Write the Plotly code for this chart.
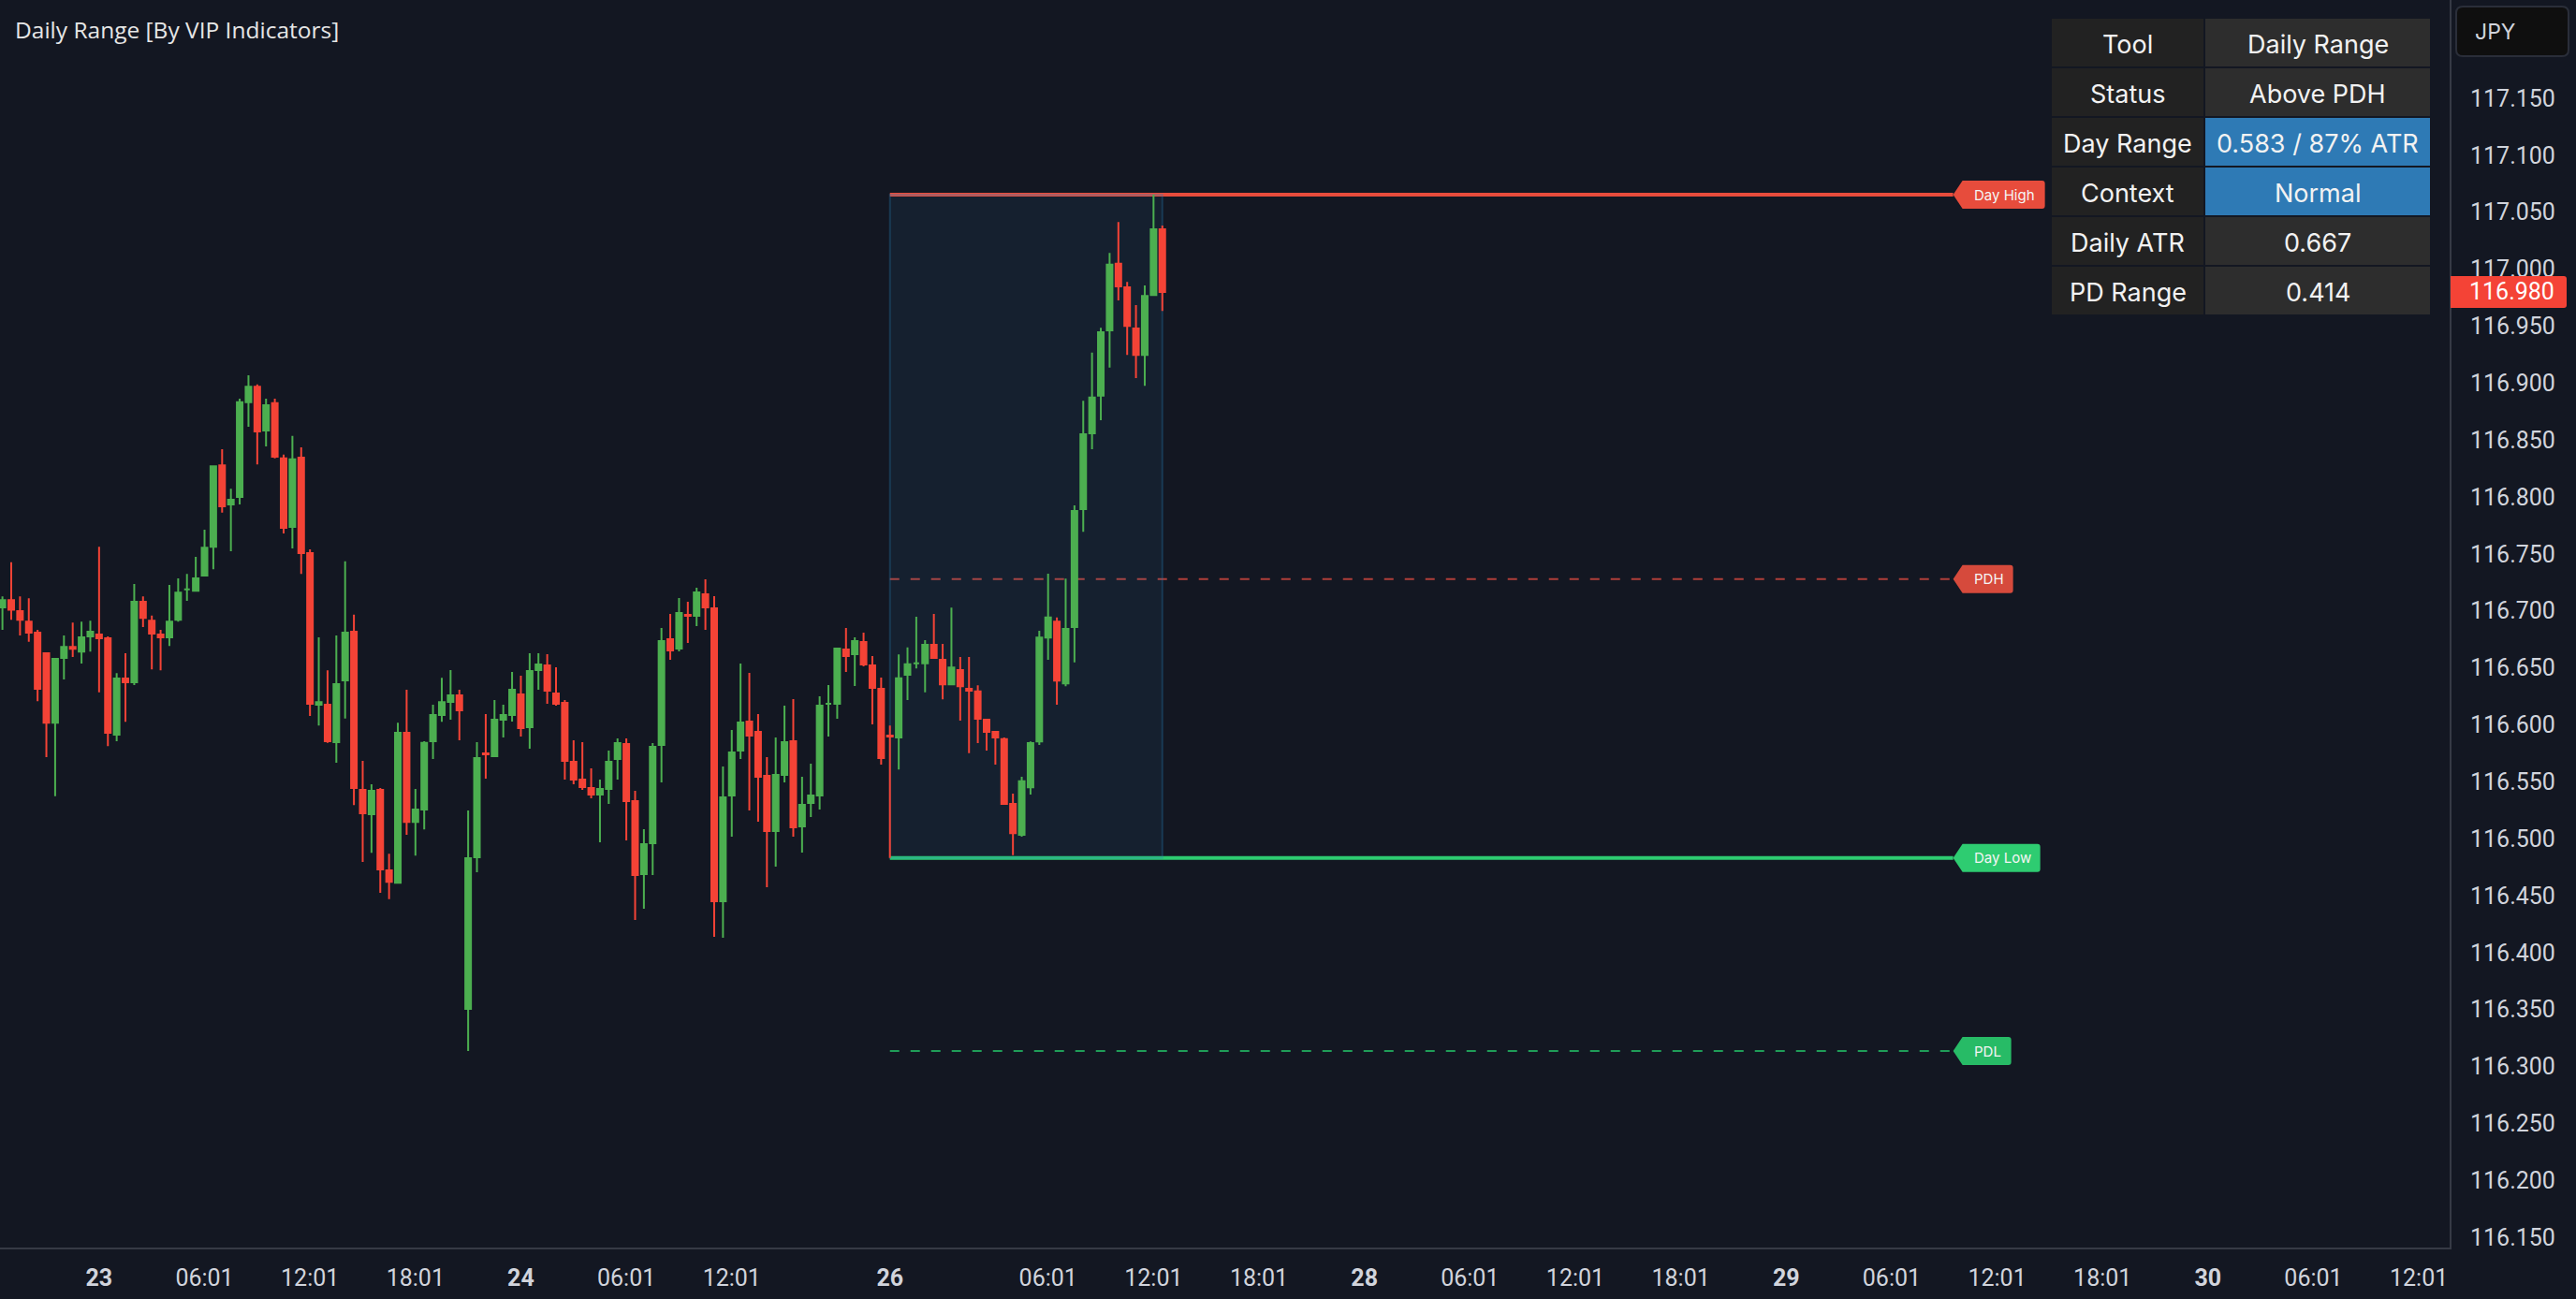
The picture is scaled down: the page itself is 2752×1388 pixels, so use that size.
import plotly.graph_objects as go

# 30 min bars. colours come from open vs close
opens = [
    116.7030, 116.7095, 116.6998, 116.6905, 116.6809, 116.6627, 116.6017, 116.6587, 116.6684, 116.6643,
    116.6776, 116.6792, 116.6760, 116.5912, 116.6405, 116.6373, 116.7079, 116.6914, 116.6792, 116.6768,
    116.6921, 116.7188, 116.7176, 116.7309, 116.7563, 116.8278, 116.7935, 116.7999, 116.8831, 116.8968,
    116.8584, 116.8823, 116.8338, 116.7737, 116.8346, 116.7507, 116.6175, 116.6175, 116.5848, 116.6389,
    116.6817, 116.5428, 116.5214, 116.5428, 116.4722, 116.4613, 116.5929, 116.5146, 116.5255, 116.5856,
    116.6086, 116.6200, 116.6258, 116.3505, 116.4836, 116.5748, 116.5723, 116.6044, 116.6085, 116.6266,
    116.5978, 116.6479, 116.6521, 116.6274, 116.6192, 116.5674, 116.5518, 116.5444, 116.5386, 116.5436,
    116.5699, 116.5831, 116.5329, 116.4688, 116.4959, 116.5822, 116.6751, 116.6668, 116.6965, 116.6956,
    116.7145, 116.7022, 116.4450, 116.5378, 116.5773, 116.6028, 116.5937, 116.5551, 116.5066, 116.5559,
    116.5855, 116.5107, 116.5312, 116.5378, 116.6184, 116.6183, 116.6660, 116.6619, 116.6726, 116.6521,
    116.6315, 116.5905, 116.5889, 116.6439, 116.6539, 116.6539, 116.6702, 116.6570, 116.6355, 116.6479,
    116.6315, 116.6292, 116.6045, 116.5937, 116.5873, 116.5304, 116.5033, 116.5451, 116.5854, 116.6766,
    116.6905, 116.6363, 116.6857, 116.7893, 116.8558, 116.8889, 116.9462, 117.0048, 116.9840, 116.9478,
    116.9247, 116.9773, 117.0350,
]
highs = [
    116.7127, 116.7426, 116.7127, 116.7111, 116.6833, 116.6635, 116.6587, 116.6784, 116.6897, 116.6905,
    116.6913, 116.7563, 116.6776, 116.6453, 116.6627, 116.7236, 116.7127, 116.6958, 116.6833, 116.7228,
    116.7285, 116.7325, 116.7474, 116.7713, 116.8278, 116.8419, 116.8072, 116.8863, 116.9069, 116.8988,
    116.8863, 116.8863, 116.8371, 116.8536, 116.8435, 116.7539, 116.6768, 116.6478, 116.6784, 116.7434,
    116.6966, 116.5683, 116.5477, 116.5444, 116.4867, 116.6017, 116.6308, 116.5436, 116.5856, 116.6175,
    116.6413, 116.6479, 116.6307, 116.5247, 116.5847, 116.6093, 116.6217, 116.6175, 116.6463, 116.6430,
    116.6627, 116.6627, 116.6619, 116.6504, 116.6217, 116.5863, 116.5847, 116.5617, 116.5518, 116.5773,
    116.5880, 116.5880, 116.5419, 116.5083, 116.5839, 116.6849, 116.6973, 116.7112, 116.7079, 116.7203,
    116.7277, 116.7129, 116.5633, 116.5954, 116.6537, 116.6455, 116.6093, 116.5715, 116.5888, 116.6167,
    116.6225, 116.5543, 116.5658, 116.6249, 116.6348, 116.6677, 116.6849, 116.6767, 116.6808, 116.6603,
    116.6414, 116.5993, 116.6618, 116.6678, 116.6949, 116.6742, 116.6973, 116.6710, 116.7028, 116.6594,
    116.6594, 116.6347, 116.6053, 116.5945, 116.5889, 116.5395, 116.5543, 116.5853, 116.6825, 116.7327,
    116.6941, 116.7283, 116.7925, 116.8845, 116.9267, 116.9486, 117.0143, 117.0414, 116.9888, 116.9685,
    116.9856, 117.0653, 117.0382,
]
lows = [
    116.6833, 116.6922, 116.6784, 116.6728, 116.6207, 116.5715, 116.5372, 116.6397, 116.6595, 116.6538,
    116.6643, 116.6284, 116.5812, 116.5856, 116.6026, 116.6348, 116.6857, 116.6486, 116.6478, 116.6692,
    116.6905, 116.7087, 116.7168, 116.7301, 116.7366, 116.7862, 116.7523, 116.7935, 116.8617, 116.8286,
    116.8443, 116.8338, 116.7680, 116.7547, 116.7325, 116.6078, 116.5993, 116.5840, 116.5666, 116.6054,
    116.5295, 116.4795, 116.4875, 116.4524, 116.4468, 116.4605, 116.5033, 116.4851, 116.5081, 116.5699,
    116.6026, 116.6044, 116.5863, 116.3135, 116.4705, 116.5526, 116.5715, 116.5888, 116.6028, 116.5896,
    116.5789, 116.6307, 116.6184, 116.6167, 116.5518, 116.5477, 116.5428, 116.5354, 116.4968, 116.5304,
    116.5518, 116.4984, 116.4286, 116.4384, 116.4680, 116.5493, 116.6570, 116.6644, 116.6718, 116.6866,
    116.6833, 116.4138, 116.4129, 116.5017, 116.5699, 116.5247, 116.5148, 116.4573, 116.4754, 116.5493,
    116.5017, 116.4877, 116.5189, 116.5255, 116.5896, 116.6052, 116.6463, 116.6340, 116.6512, 116.6003,
    116.5650, 116.4830, 116.5607, 116.6216, 116.6495, 116.6284, 116.6578, 116.6224, 116.6347, 116.6037,
    116.5750, 116.5838, 116.5774, 116.5650, 116.5296, 116.4854, 116.5017, 116.5387, 116.5822, 116.6570,
    116.6176, 116.6339, 116.6547, 116.7694, 116.8419, 116.8673, 116.9135, 116.9725, 116.9247, 116.9044,
    116.8976, 116.9765, 116.9633,
]
closes = [
    116.7095, 116.7010, 116.6921, 116.6808, 116.6316, 116.6017, 116.6579, 116.6684, 116.6667, 116.6768,
    116.6817, 116.6760, 116.5929, 116.6405, 116.6373, 116.7079, 116.6938, 116.6800, 116.6768, 116.6905,
    116.7160, 116.7188, 116.7285, 116.7555, 116.8270, 116.7918, 116.7975, 116.8831, 116.8968, 116.8576,
    116.8806, 116.8354, 116.7729, 116.8330, 116.7507, 116.6183, 116.6199, 116.5856, 116.6357, 116.6809,
    116.5444, 116.5222, 116.5420, 116.4730, 116.4621, 116.5929, 116.5146, 116.5255, 116.5840, 116.6086,
    116.6199, 116.6258, 116.6126, 116.4828, 116.5707, 116.5740, 116.6044, 116.6085, 116.6307, 116.5970,
    116.6471, 116.6529, 116.6299, 116.6183, 116.5682, 116.5518, 116.5452, 116.5386, 116.5436, 116.5674,
    116.5839, 116.5329, 116.4680, 116.4951, 116.5806, 116.6734, 116.6652, 116.6981, 116.6956, 116.7162,
    116.7030, 116.4450, 116.5362, 116.5757, 116.6020, 116.5904, 116.5543, 116.5066, 116.5559, 116.5847,
    116.5099, 116.5296, 116.5379, 116.6167, 116.6184, 116.6669, 116.6603, 116.6734, 116.6529, 116.6323,
    116.5707, 116.5897, 116.6407, 116.6531, 116.6539, 116.6702, 116.6586, 116.6355, 116.6503, 116.6339,
    116.6300, 116.6053, 116.5937, 116.5889, 116.5304, 116.5049, 116.5503, 116.5838, 116.6766, 116.6941,
    116.6387, 116.6841, 116.7877, 116.8550, 116.8873, 116.9446, 117.0040, 116.9848, 116.9502, 116.9247,
    116.9765, 117.0350, 116.9800,
]
bars = list(range(len(closes)))

# x axis labels, bar number of each one
time_ticks = [11, 23, 35, 47, 59, 71, 83, 101, 119, 131, 143, 155, 167, 179, 191, 203, 215, 227, 239, 251, 263, 275]
time_labels = ["<b>23</b>", "06:01", "12:01", "18:01", "<b>24</b>", "06:01", "12:01", "<b>26</b>", "06:01", "12:01",
               "18:01", "<b>28</b>", "06:01", "12:01", "18:01", "<b>29</b>", "06:01", "12:01", "18:01", "<b>30</b>",
               "06:01", "12:01"]
price_ticks = [116.15, 116.20, 116.25, 116.30, 116.35, 116.40, 116.45, 116.50, 116.55, 116.60, 116.65,
               116.70, 116.75, 116.80, 116.85, 116.90, 116.95, 117.00, 117.05, 117.10, 117.15]

day_high = 117.0653
day_low = 116.4830
pdh = 116.7279
pdl = 116.3135
last_price = 116.98

table_names = ["Tool", "Status", "Day Range", "Context", "Daily ATR", "PD Range"]
table_values = ["Daily Range", "Above PDH", "0.583 / 87% ATR", "Normal", "0.667", "0.414"]
highlighted = ["Day Range", "Context"]

BG = "#131722"
RED = "#f44336"
GREEN = "#4caf50"
TAG_RED = "#e74c3c"
TAG_GREEN = "#2ecc71"
BLUE = "#2e7ab5"
FONT = "Inter"
AXIS_FONT = "Roboto"

fig = go.Figure()

fig.add_trace(go.Candlestick(x=bars, open=opens, high=highs, low=lows, close=closes,
                             increasing=dict(line=dict(color=GREEN, width=2), fillcolor=GREEN),
                             decreasing=dict(line=dict(color=RED, width=2), fillcolor=RED),
                             whiskerwidth=0, hoverinfo="skip", showlegend=False))


def level_line(y, color, width, dash="solid"):
    return dict(type="line", layer="below", xref="x", yref="y", x0=bars[101], x1=222, y0=y, y1=y,
                line=dict(color=color, width=width, dash=dash))


def tag_path(w):
    # label with the point on the left, pixels from the level line
    return (f"M 0 0 L 10 15 L {w - 3} 15 Q {w} 15 {w} 12 L {w} -12 Q {w} -15 {w - 3} -15 L 10 -15 Z")


def tag(y, w, color, text):
    fig.add_shape(type="path", xref="x", yref="y", xsizemode="pixel", ysizemode="pixel",
                  xanchor=222, yanchor=y, path=tag_path(w), fillcolor=color, line=dict(width=0), layer="above")
    fig.add_annotation(x=222, y=y, xref="x", yref="y", xshift=20, xanchor="left", yanchor="middle", showarrow=False,
                       text=text, font=dict(family=FONT, size=15, color="#f5f5f5"))


def table_cell(left, right, top, color, text):
    # pixels from the top left corner of the plot
    fig.add_shape(type="rect", xref="paper", yref="paper", xsizemode="pixel", ysizemode="pixel", xanchor=0, yanchor=1,
                  x0=left, x1=right, y0=-top, y1=-(top + 51), fillcolor=color, line=dict(width=0), layer="above")
    fig.add_annotation(x=0, y=1, xref="paper", yref="paper", xshift=(left + right) / 2, yshift=-(top + 27),
                       xanchor="center", yanchor="middle", showarrow=False, text=text,
                       font=dict(family=FONT, size=27, color="#f2f2f2"))


fig.add_shape(level_line(day_high, TAG_RED, 4))
fig.add_shape(level_line(day_low, TAG_GREEN, 4))
fig.add_shape(level_line(pdh, "#b03f3a", 2, "10px,12px"))
fig.add_shape(level_line(pdl, "#1f9d58", 2, "10px,12px"))
# todays box goes over the level lines but under the candles
fig.add_shape(type="rect", layer="below", xref="x", yref="y", x0=bars[101], x1=bars[-1], y0=day_low, y1=day_high,
              fillcolor="rgba(41,128,185,0.09)", line=dict(color="rgba(41,128,185,0.3)", width=2))

tag(day_high, 98, TAG_RED, "Day High")
tag(pdh, 64, "#d64a3c", "PDH")
tag(day_low, 93, TAG_GREEN, "Day Low")
tag(pdl, 62, "#27bb66", "PDL")

# info table top right
for row, (name, value) in enumerate(zip(table_names, table_values)):
    top = 20 + 53 * row
    table_cell(2192, 2354, top, "#222222", name)
    table_cell(2356, 2596, top, BLUE if name in highlighted else "#2d2d2d", value)

# symbol box and last price on the price scale
fig.add_shape(type="path", xref="paper", yref="paper", xsizemode="pixel", ysizemode="pixel", xanchor=1, yanchor=1,
              path="M 14 -7 L 120 -7 Q 127 -7 127 -14 L 127 -53 Q 127 -60 120 -60 L 14 -60 Q 7 -60 7 -53 L 7 -14 Q 7 -7 14 -7 Z",
              fillcolor="#0f0f0f", line=dict(color="#2a2e39", width=2), layer="above")
fig.add_annotation(x=1, y=1, xref="paper", yref="paper", xshift=25, yshift=-34, xanchor="left", yanchor="middle",
                   showarrow=False, text="JPY", font=dict(family=FONT, size=23, color="#d1d4dc"))
fig.add_shape(type="path", xref="paper", yref="y", xsizemode="pixel", ysizemode="pixel", xanchor=1, yanchor=last_price,
              path="M 1 17 L 122 17 Q 125 17 125 14 L 125 -14 Q 125 -17 122 -17 L 1 -17 Z",
              fillcolor=RED, line=dict(width=0), layer="above")
fig.add_annotation(x=1, y=last_price, xref="paper", yref="y", xshift=19, xanchor="left", yanchor="middle",
                   showarrow=False, text=f"{last_price:.3f}", font=dict(family=AXIS_FONT, size=25, color="#ffffff"))

fig.add_annotation(x=0, y=1, xref="paper", yref="paper", xshift=14, yshift=-31, xanchor="left", yanchor="middle",
                   showarrow=False, text="Daily Range [By VIP Indicators]",
                   font=dict(family="Open Sans", size=24.5, color="#e6e6e6"))

fig.update_layout(
    width=2752, height=1388, margin=dict(l=0, r=135, t=0, b=55),
    paper_bgcolor=BG, plot_bgcolor=BG, showlegend=False, boxgap=0.36, boxgroupgap=0,
    xaxis=dict(range=[-0.277, 278.5], rangeslider=dict(visible=False), showgrid=False, zeroline=False,
               tickmode="array", tickvals=time_ticks, ticktext=time_labels, ticks="", ticklabelstandoff=9,
               tickfont=dict(family=AXIS_FONT, size=25, color="#d1d4dc"), showline=True, linecolor="#363a45", linewidth=2),
    yaxis=dict(range=[116.141, 117.2363], side="right", showgrid=False, zeroline=False,
               tickmode="array", tickvals=price_ticks, ticktext=[f"{p:.3f}" for p in price_ticks], ticks="",
               ticklabelstandoff=15, tickfont=dict(family=AXIS_FONT, size=25, color="#d1d4dc"),
               showline=True, linecolor="#363a45", linewidth=2),
)

fig.write_html("out.html", config={"displayModeBar": False},
               post_script="document.body.style.margin='0';document.body.style.overflow='hidden';")
